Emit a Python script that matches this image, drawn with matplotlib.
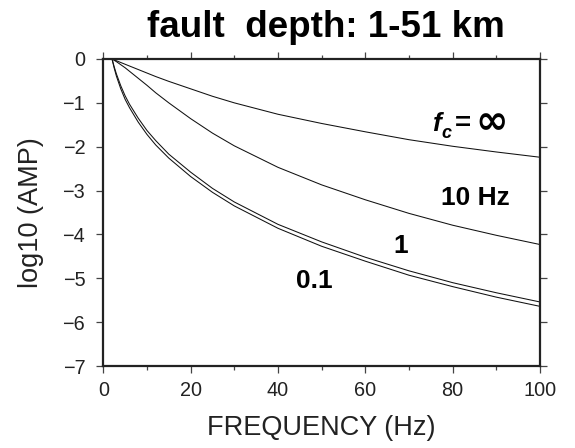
import matplotlib
matplotlib.use("Agg")
import matplotlib.pyplot as plt

plt.rcParams['font.family'] = ['Liberation Sans', 'DejaVu Sans']

# frequency samples (Hz)
freq = [2, 2.5, 3, 4, 5, 6, 8, 10, 12, 15, 20, 25, 30, 40, 50, 60, 70, 80, 90, 100]
# log10 amplitude, one list per corner frequency
amp_inf = [0, -0.02, -0.04, -0.08, -0.12, -0.16, -0.24, -0.32, -0.40, -0.51, -0.68,
           -0.85, -1.00, -1.26, -1.47, -1.66, -1.84, -1.99, -2.12, -2.24]
amp_10 = [0, -0.03, -0.06, -0.13, -0.20, -0.28, -0.44, -0.60, -0.77, -1.00, -1.36,
          -1.69, -1.98, -2.47, -2.87, -3.21, -3.52, -3.79, -4.02, -4.23]
amp_1 = [0, -0.18, -0.34, -0.61, -0.84, -1.03, -1.35, -1.63, -1.86, -2.17, -2.58,
         -2.95, -3.26, -3.77, -4.17, -4.52, -4.83, -5.10, -5.33, -5.54]
amp_01 = [0, -0.21, -0.39, -0.68, -0.92, -1.11, -1.44, -1.72, -1.96, -2.26, -2.68,
          -3.04, -3.35, -3.86, -4.27, -4.61, -4.93, -5.19, -5.43, -5.64]

title = "fault  depth: 1-51 km"
xlabel = "FREQUENCY (Hz)"
ylabel = "log10 (AMP)"
xticks = [0, 20, 40, 60, 80, 100]
xminor = [10, 30, 50, 70, 90]
yticks = [0, -1, -2, -3, -4, -5, -6, -7]

W, H = 575, 448
fig = plt.figure(figsize=(W / 100, H / 100), dpi=100)
x0, x1, y0, y1 = 103.3, 540, 59, 366
ax = fig.add_axes([x0 / W, 1 - y1 / H, (x1 - x0) / W, (y1 - y0) / H])

for a in (amp_inf, amp_10, amp_1, amp_01):
    ax.plot(freq, a, color='#111111', lw=0.75, solid_joinstyle='round')

ax.set_xlim(0, 100)
ax.set_ylim(-7, 0)
ax.set_xticks(xticks)
ax.set_xticks(xminor, minor=True)
ax.set_yticks(yticks)
ax.set_yticklabels(["0" if v == 0 else "\u2212%d" % (-v) for v in yticks])

for s in ax.spines.values():
    s.set_linewidth(1.6)
    s.set_color('#222222')

ax.tick_params(which='both', direction='out', top=True, right=True,
               labeltop=False, labelright=False, color='#444444',
               labelcolor='#222222')
ax.tick_params(which='major', length=5, width=0.9, labelsize=14.3, pad=6)
ax.tick_params(which='minor', length=3, width=0.9)
ax.tick_params(axis='y', pad=8)

ax.set_xlabel(xlabel, fontsize=19.5, color='#222222')
ax.xaxis.set_label_coords(0.5, -0.158)
ax.set_ylabel(ylabel, fontsize=19.5, color='#222222')
ax.yaxis.set_label_coords(-0.136, 0.5)

ax.text(0.51, 1 + 22 / 307, title, transform=ax.transAxes, ha='center',
        va='baseline', fontsize=26.5, fontweight='bold')

# curve annotations
ax.text(75.3, -1.65, "f", fontsize=19, fontstyle='italic', fontweight='bold',
        va='baseline', ha='left')
ax.text(77.4, -1.80, "c", fontsize=13, fontstyle='italic', fontweight='bold',
        va='baseline', ha='left')
ax.text(80.6, -1.65, "=", fontsize=20, fontweight='bold', va='baseline', ha='left')
ax.text(85.2, -1.70, "\u221e", fontsize=28, fontweight='bold', va='baseline',
        ha='left', family=['DejaVu Sans'])
ax.text(85.2, -3.18, "10 Hz", fontsize=19, fontweight='bold', va='center', ha='center')
ax.text(68.0, -4.26, "1", fontsize=19, fontweight='bold', va='center', ha='center')
ax.text(48.4, -5.06, "0.1", fontsize=19, fontweight='bold', va='center', ha='center')

fig.savefig("out.png", dpi=100)
